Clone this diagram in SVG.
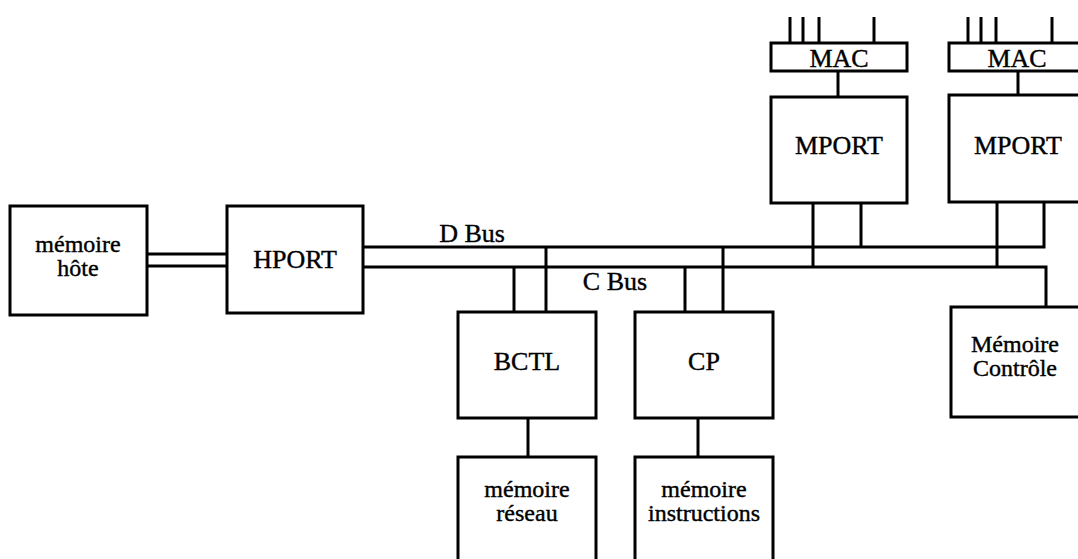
<svg xmlns="http://www.w3.org/2000/svg" width="1078" height="559" viewBox="0 0 1078 559">
<style>
.box{fill:#fff;stroke:#000;stroke-width:3}
.ln{fill:none;stroke:#000;stroke-width:3}
text{font-family:"Liberation Serif","Times New Roman",serif;font-size:26px;fill:#000;stroke:#000;stroke-width:0.4;text-anchor:middle}
text.two{font-size:24px}
</style>
<rect width="1078" height="559" fill="#fff"/>
<g id="connectors">
<line class="ln" x1="148" y1="254" x2="227" y2="254"/>
<line class="ln" x1="148" y1="266" x2="227" y2="266"/>
<polyline class="ln" points="363,247 1044,247 1044,202"/>
<polyline class="ln" points="363,267 1046,267 1046,307"/>
<line class="ln" x1="546" y1="247" x2="546" y2="312"/>
<line class="ln" x1="514" y1="267" x2="514" y2="312"/>
<line class="ln" x1="685" y1="267" x2="685" y2="312"/>
<line class="ln" x1="723" y1="247" x2="723" y2="312"/>
<line class="ln" x1="813" y1="203" x2="813" y2="267"/>
<line class="ln" x1="861" y1="203" x2="861" y2="247"/>
<line class="ln" x1="997" y1="202" x2="997" y2="267"/>
<line class="ln" x1="528" y1="418" x2="528" y2="457"/>
<line class="ln" x1="698" y1="418" x2="698" y2="457"/>
<line class="ln" x1="838" y1="71" x2="838" y2="97"/>
<line class="ln" x1="1018" y1="71" x2="1018" y2="95"/>
<line class="ln" x1="790" y1="17" x2="790" y2="43"/>
<line class="ln" x1="803" y1="17" x2="803" y2="43"/>
<line class="ln" x1="819" y1="17" x2="819" y2="43"/>
<line class="ln" x1="874" y1="17" x2="874" y2="43"/>
<line class="ln" x1="968" y1="17" x2="968" y2="43"/>
<line class="ln" x1="981" y1="17" x2="981" y2="43"/>
<line class="ln" x1="996" y1="17" x2="996" y2="43"/>
<line class="ln" x1="1052" y1="17" x2="1052" y2="43"/>
<text x="472" y="242">D Bus</text>
<text x="615" y="290">C Bus</text>
</g>
<g id="memoire-hote"><rect class="box" x="10" y="206" width="137" height="109"/><text class="two" x="78" y="252">mémoire</text><text class="two" x="78" y="276">hôte</text></g>
<g id="hport"><rect class="box" x="227" y="206" width="136" height="107"/><text x="295" y="268">HPORT</text></g>
<g id="bctl"><rect class="box" x="458" y="312" width="138" height="106"/><text x="527" y="370">BCTL</text></g>
<g id="cp"><rect class="box" x="635" y="312" width="138" height="106"/><text x="704" y="370">CP</text></g>
<g id="memoire-reseau"><rect class="box" x="458" y="457" width="138" height="110"/><text class="two" x="527" y="497">mémoire</text><text class="two" x="527" y="521">réseau</text></g>
<g id="memoire-instructions"><rect class="box" x="635" y="457" width="138" height="110"/><text class="two" x="704" y="497">mémoire</text><text class="two" x="704" y="521">instructions</text></g>
<g id="mac1"><rect class="box" x="771" y="43" width="136" height="28"/><text x="839" y="67">MAC</text></g>
<g id="mport1"><rect class="box" x="771" y="97" width="136" height="106"/><text x="839" y="154">MPORT</text></g>
<g id="mac2"><rect class="box" x="949" y="43" width="140" height="28"/><text x="1017" y="67">MAC</text></g>
<g id="mport2"><rect class="box" x="949" y="95" width="140" height="107"/><text x="1018" y="154">MPORT</text></g>
<g id="memoire-controle"><rect class="box" x="951" y="307" width="140" height="110"/><text class="two" x="1015" y="352">Mémoire</text><text class="two" x="1015" y="376">Contrôle</text></g>
</svg>
